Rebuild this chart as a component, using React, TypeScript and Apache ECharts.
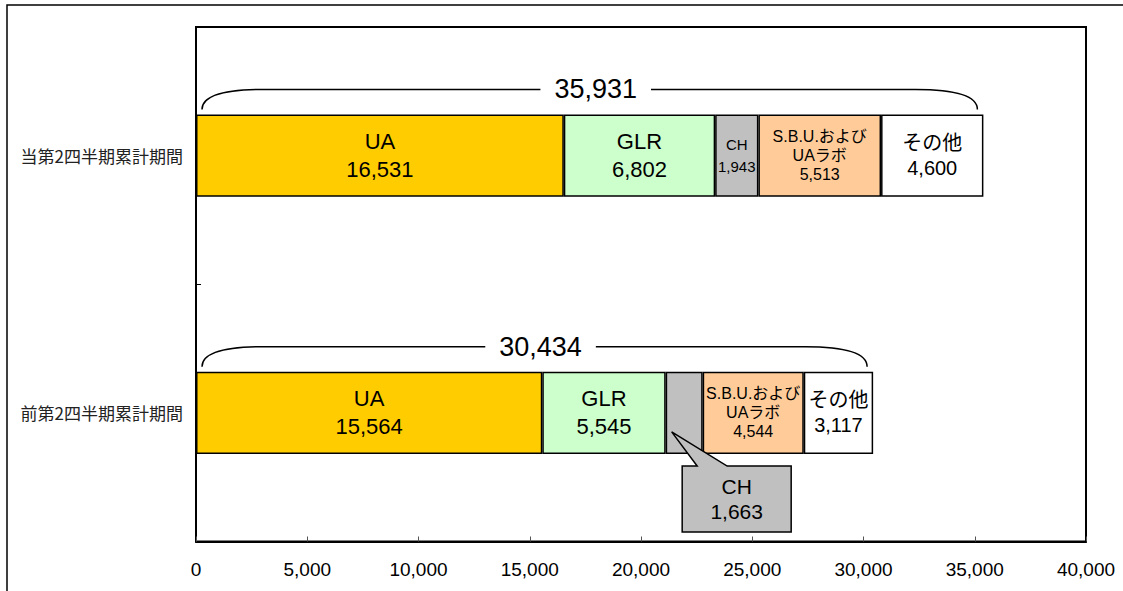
import React, { useEffect, useRef } from "react";
import * as echarts from "echarts";

// ---- data ----
const categories = ["前第2四半期累計期間", "当第2四半期累計期間"];
const segmentNames = ["UA", "GLR", "CH", "S.B.U.および\nUAラボ", "その他"];
const uaValues = [15564, 16531];
const glrValues = [5545, 6802];
const chValues = [1663, 1943];
const sbuValues = [4544, 5513];
const otherValues = [3117, 4600];
const totals = [30434, 35931];
const xMin = 0;
const xMax = 40000;
const xInterval = 5000;

const segmentValues = [uaValues, glrValues, chValues, sbuValues, otherValues];
const segmentColors = ["#FFCC00", "#CCFFCC", "#C0C0C0", "#FFCC99", "#FFFFFF"];
const labelFont = [
  { size: 22, lh: 28 },
  { size: 22, lh: 28 },
  { size: 15, lh: 22 },
  { size: 16, lh: 19 },
  { size: 20, lh: 25 },
];

const fmt = (v: number) => v.toLocaleString("en-US");
const FONT = "'Liberation Sans', Arial, 'Noto Sans CJK JP', sans-serif";
const BAR_RATIO = 0.32;

export default function App() {
  const ref = useRef<HTMLDivElement>(null);

  useEffect(() => {
    if (!ref.current) return;
    const chart = echarts.init(ref.current, undefined, { renderer: "svg" });

    const barSeries = segmentValues.map((vals, si) => ({
      type: "bar",
      name: segmentNames[si],
      stack: "total",
      barWidth: BAR_RATIO * 100 + "%",
      itemStyle: { color: segmentColors[si], borderColor: "#000", borderWidth: 1.5 },
      label: {
        show: true,
        position: "inside",
        color: "#000",
        fontFamily: FONT,
        fontSize: labelFont[si].size,
        lineHeight: labelFont[si].lh,
        formatter: (p: any) => `${segmentNames[si]}\n${fmt(p.value)}`,
      },
      data: vals.map((v, ci) =>
        si === 2 && ci === 0 ? { value: v, label: { show: false } } : v
      ),
      z: 2,
    }));

    const sums = categories.map((_, ci) =>
      segmentValues.reduce((a, vals) => a + vals[ci], 0)
    );

    const braceSeries = {
      type: "custom",
      coordinateSystem: "cartesian2d",
      encode: { x: 1, y: 0 },
      silent: true,
      z: 5,
      data: categories.map((_, ci) => [ci, sums[ci], totals[ci]]),
      renderItem: (params: any, api: any) => {
        const idx = api.value(0);
        const end = api.value(1);
        const total = api.value(2);
        const [x0, yc] = api.coord([0, idx]);
        const [x1] = api.coord([end, idx]);
        const bandH = api.size([0, 1])[1];
        const barTop = yc - (bandH * BAR_RATIO) / 2;
        const yEnd = barTop - 5;
        const yTop = barTop - 25;
        const left = x0 + 6;
        const right = x1 - 6;
        const d = `M${left} ${yEnd} C${left} ${yTop + 8} ${left + 18} ${yTop} ${left + 62} ${yTop} L${right - 62} ${yTop} C${right - 18} ${yTop} ${right} ${yTop + 8} ${right} ${yEnd}`;
        return {
          type: "group",
          children: [
            {
              type: "path",
              shape: { pathData: d },
              style: { stroke: "#000", lineWidth: 1.5, fill: "none" },
            },
            {
              type: "text",
              x: (left + right) / 2 + 6,
              y: yTop,
              style: {
                text: fmt(total),
                fontSize: 27,
                fontFamily: FONT,
                fill: "#000",
                align: "center",
                verticalAlign: "middle",
                backgroundColor: "#fff",
                padding: [0, 14],
              },
            },
          ],
        };
      },
    };

    const chStart = uaValues[0] + glrValues[0];
    const calloutSeries = {
      type: "custom",
      coordinateSystem: "cartesian2d",
      encode: { x: 0, y: 2 },
      silent: true,
      z: 6,
      data: [[chStart, chValues[0], 0]],
      renderItem: (params: any, api: any) => {
        const s = api.value(0);
        const v = api.value(1);
        const idx = api.value(2);
        const [xs, yc] = api.coord([s, idx]);
        const [xe] = api.coord([s + v, idx]);
        const bandH = api.size([0, 1])[1];
        const barBottom = yc + (bandH * BAR_RATIO) / 2;
        const cx = (xs + xe) / 2;
        const left = cx - 2;
        const right = cx + 107;
        const top = barBottom + 12;
        const bottom = barBottom + 78;
        const tipX = xs + 6;
        const tipY = yc + 19;
        return {
          type: "group",
          children: [
            {
              type: "polygon",
              shape: {
                points: [
                  [left, top],
                  [left + 15, top],
                  [tipX, tipY],
                  [left + 45, top],
                  [right, top],
                  [right, bottom],
                  [left, bottom],
                ],
              },
              style: { fill: "#C0C0C0", stroke: "#000", lineWidth: 1.5 },
            },
            {
              type: "text",
              x: (left + right) / 2,
              y: (top + bottom) / 2,
              style: {
                text: `${segmentNames[2]}\n${fmt(v)}`,
                fontSize: 21,
                lineHeight: 25,
                fontFamily: FONT,
                fill: "#000",
                align: "center",
                verticalAlign: "middle",
              },
            },
          ],
        };
      },
    };

    chart.setOption({
      animation: false,
      backgroundColor: "#fff",
      grid: {
        left: 196,
        top: 27,
        right: 37,
        bottom: 49.5,
        show: true,
        borderColor: "#000",
        borderWidth: 2,
        backgroundColor: "transparent",
      },
      xAxis: {
        type: "value",
        min: xMin,
        max: xMax,
        interval: xInterval,
        splitLine: { show: false },
        axisLine: { show: true, lineStyle: { color: "#000", width: 2 } },
        axisTick: { show: true, inside: true, length: 5, lineStyle: { color: "#555", width: 1 } },
        axisLabel: {
          color: "#000",
          fontSize: 19,
          fontFamily: FONT,
          margin: 18,
          formatter: (v: number) => fmt(v),
        },
      },
      yAxis: {
        type: "category",
        data: categories,
        axisLine: { show: true, lineStyle: { color: "#000", width: 2 } },
        axisTick: { show: true, inside: true, length: 5, lineStyle: { color: "#000", width: 1 } },
        axisLabel: {
          color: "#222",
          fontSize: 17,
          fontFamily: "'Noto Sans CJK JP', sans-serif",
          margin: 13,
        },
      },
      graphic: [
        {
          type: "rect",
          shape: { x: 7, y: 5, width: 1300, height: 800 },
          style: { fill: "none", stroke: "#000", lineWidth: 1.5 },
          silent: true,
          z: 100,
        },
      ],
      series: [...barSeries, braceSeries, calloutSeries],
    });

    return () => chart.dispose();
  }, []);

  return (
    <div
      ref={ref}
      style={{ position: "absolute", left: 0, top: 0, width: 1123, height: 591 }}
    />
  );
}
